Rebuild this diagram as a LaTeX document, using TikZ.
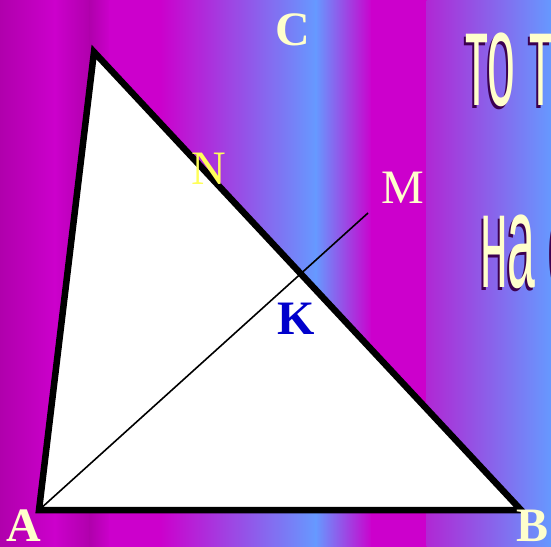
\documentclass[tikz,border=0pt]{standalone}
\usepackage{fontspec}
\setmainfont{Liberation Serif}
\newfontfamily\narrowfont{Liberation Sans}[FakeStretch=0.37]
\usetikzlibrary{positioning, calc}
\definecolor{bgmag}{RGB}{204,0,204}
\definecolor{bgdark}{RGB}{176,0,172}
\definecolor{bgblue}{RGB}{102,153,255}
\definecolor{bgpurple}{RGB}{176,40,212}
\definecolor{paleyellow}{RGB}{255,255,204}
\definecolor{labelyellow}{RGB}{255,255,90}
\definecolor{labelblue}{RGB}{0,0,204}
\definecolor{shadowdark}{RGB}{60,0,80}
\tikzset{
    triangle edge/.style={draw=black, line width=6.5pt, fill=white, line join=miter},
    cevian/.style={draw=black, line width=1.6pt},
    vertex label/.style={inner sep=0pt, text=paleyellow, font=\fontsize{48}{48}\selectfont\bfseries},
    point label/.style={inner sep=0pt, font=\fontsize{48}{48}\selectfont},
    slide text/.style={inner sep=0pt, anchor=base west, text=paleyellow, font=\narrowfont\fontsize{135}{135}\selectfont},
    slide shadow/.style={slide text, text=shadowdark},
}
\begin{document}
\begin{tikzpicture}[x=1pt, y=-1pt]
\useasboundingbox (0,0) rectangle (551,546);
\clip (0,0) rectangle (551,546);
\foreach \xa/\xb/\ca/\cb in {0/55/bgdark/bgmag, 55/90/bgmag/bgdark, 90/110/bgdark/bgmag, 110/160/bgmag/bgmag, 160/316/bgmag/bgblue, 316/372/bgblue/bgmag, 372/427/bgmag/bgmag, 427/551/bgpurple/bgblue}
    \shade[left color=\ca, right color=\cb] (\xa-0.5,0) rectangle (\xb+0.5,546);

\node[slide shadow] (shadow1) at (463,108) {то те};
\node[slide text] (line1) at (465,105) {то те};
\node[slide shadow] (shadow2) at (478,290) {на с};
\node[slide text] (line2) at (480,287) {на с};

\coordinate (A) at (39,510);
\coordinate (B) at (521,510);
\coordinate (C) at (94,52);
\coordinate (M) at (368,213);
\draw[triangle edge] (A) -- (B) -- (C) -- cycle;
\draw[cevian] (A) -- (M);

\node[vertex label] (labelA) at (24,526) {A};
\node[vertex label] (labelB) at (532,526) {B};
\node[vertex label] (labelC) at (293,30) {C};
\node[point label, text=labelyellow] (labelN) at (209,169) {N};
\node[point label, text=paleyellow] (labelM) at (403,188) {M};
\node[point label, text=labelblue, font=\fontsize{48}{48}\selectfont\bfseries] (labelK) at (296,319) {K};
\end{tikzpicture}
\end{document}
